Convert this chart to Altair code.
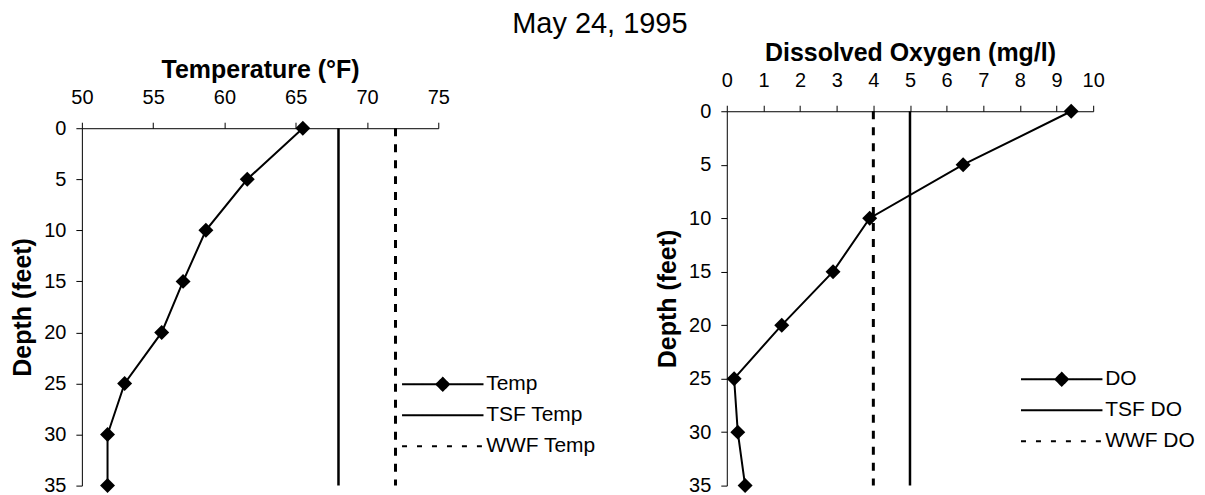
import altair as alt
import pandas as pd

# ---- data ----
depth = [0, 5, 10, 15, 20, 25, 30, 35]
temp_f = [65.5, 61.6, 58.7, 57.1, 55.6, 53.0, 51.8, 51.8]
do_mgl = [9.4, 6.45, 3.9, 2.9, 1.5, 0.2, 0.3, 0.5]

temp_series = ["Temp", "TSF Temp", "WWF Temp"]
do_series = ["DO", "TSF DO", "WWF DO"]
temp_criteria = [68, 72]   # TSF, WWF
do_criteria = [5, 4]       # TSF, WWF

temp_ticks = [50, 55, 60, 65, 70, 75]
do_ticks = [0, 1, 2, 3, 4, 5, 6, 7, 8, 9, 10]
depth_ticks = [0, 5, 10, 15, 20, 25, 30, 35]

FONT = "Liberation Sans"
LINE_PATH = "M-6.8,0H6.8"
DIAMOND_PATH = "M-6.8,0H6.8M-1.05,0L0,-1.05L1.05,0L0,1.05Z"

PANEL_H = 375


def panel(values, series, criteria, xdomain, xticks, xtitle, w, drop, space_right, legx, legy):
    prof = pd.DataFrame({"depth": depth, "val": values, "series": series[0]})
    crit = pd.DataFrame({
        "val": criteria,
        "series": series[1:],
        "depth": [depth[0]] * 2,
        "depth_end": [depth[-1]] * 2,
    })
    keys = pd.DataFrame({"series": series})
    legend = alt.Legend(
        title=None, orient="none", legendX=legx, legendY=legy, direction="vertical",
        symbolSize=144, symbolStrokeWidth=2,
        labelFont=FONT, labelFontSize=21, labelColor="black", labelOffset=33,
        rowPadding=9, padding=0,
    )
    x = alt.X("val:Q", scale=alt.Scale(domain=xdomain, nice=False, zero=False),
              axis=alt.Axis(orient="top", values=xticks, title=xtitle, titlePadding=5,
                            labelPadding=15, tickSize=6, labelFlush=False, offset=-drop))
    y = alt.Y("depth:Q", scale=alt.Scale(domain=[depth[0], depth[-1]], range=[drop, PANEL_H], nice=False),
              axis=alt.Axis(values=depth_ticks, title="Depth (feet)", titlePadding=8,
                            labelPadding=10, tickSize=6, labelFlush=False))

    line = alt.Chart(prof).mark_line(strokeWidth=2, color="black").encode(
        x=x, y=y, order=alt.Order("depth:Q"))
    pts = alt.Chart(prof).mark_point(shape="diamond", filled=True, size=225, opacity=1,
                                     color="black").encode(x=x, y=y)
    tsf = alt.Chart(crit.iloc[[0]]).mark_rule(strokeWidth=2.5, color="black").encode(
        x=x, y=y, y2="depth_end:Q")
    wwf = alt.Chart(crit.iloc[[1]]).mark_rule(strokeWidth=3, color="black", strokeDash=[8, 8]).encode(
        x=x, y=y, y2="depth_end:Q")
    # legend carrier: no rows drawn, only provides the legend
    key = alt.Chart(keys).transform_filter("false").mark_point(
        filled=False, opacity=1, size=144, strokeWidth=2).encode(
        shape=alt.Shape("series:N", scale=alt.Scale(domain=series, range=[DIAMOND_PATH, LINE_PATH, LINE_PATH]),
                        legend=legend),
        stroke=alt.Stroke("series:N", scale=alt.Scale(domain=series, range=["black"] * 3), legend=legend),
        fill=alt.Fill("series:N", scale=alt.Scale(domain=series, range=["black", "transparent", "transparent"]),
                      legend=legend),
        strokeDash=alt.StrokeDash("series:N", scale=alt.Scale(domain=series, range=[[1, 0], [1, 0], [5, 10]]),
                                  legend=legend),
    )
    # invisible layout spacer (reserves room for the legend on the right)
    space = alt.Chart(alt.Data(values=[{}])).mark_rule(strokeOpacity=0, opacity=0).encode(
        x=alt.value(0), x2=alt.value(space_right), y=alt.value(-72), y2=alt.value(0))
    return alt.layer(space, tsf, wwf, line, pts, key).properties(width=w, height=PANEL_H)


left = panel(temp_f, temp_series, temp_criteria, [50, 75], temp_ticks,
             "Temperature (°F)", 357, 17, 517, 351, 263)
right = panel(do_mgl, do_series, do_criteria, [0, 10], do_ticks,
              "Dissolved Oxygen (mg/l)", 367, 0, 467, 325, 258)

chart = alt.concat(left, right, columns=2, spacing=57, align="none").resolve_scale(
    shape="independent", stroke="independent", fill="independent", strokeDash="independent",
).resolve_legend(
    shape="independent", stroke="independent", fill="independent", strokeDash="independent",
).properties(
    title=alt.TitleParams("May 24, 1995", fontSize=29, font=FONT, fontWeight="normal",
                          anchor="middle", offset=0, dx=-3, color="black"),
    padding={"left": 2, "top": 2, "right": 2, "bottom": 2},
).configure_view(stroke=None).configure_axis(
    labelFont=FONT, labelFontSize=20, labelColor="black",
    titleFont=FONT, titleFontSize=25, titleFontWeight="bold", titleColor="black",
    domainColor="black", tickColor="black", domainWidth=1, tickWidth=1, grid=False,
)

chart.save("out.html", embed_options={"renderer": "svg", "actions": False})
